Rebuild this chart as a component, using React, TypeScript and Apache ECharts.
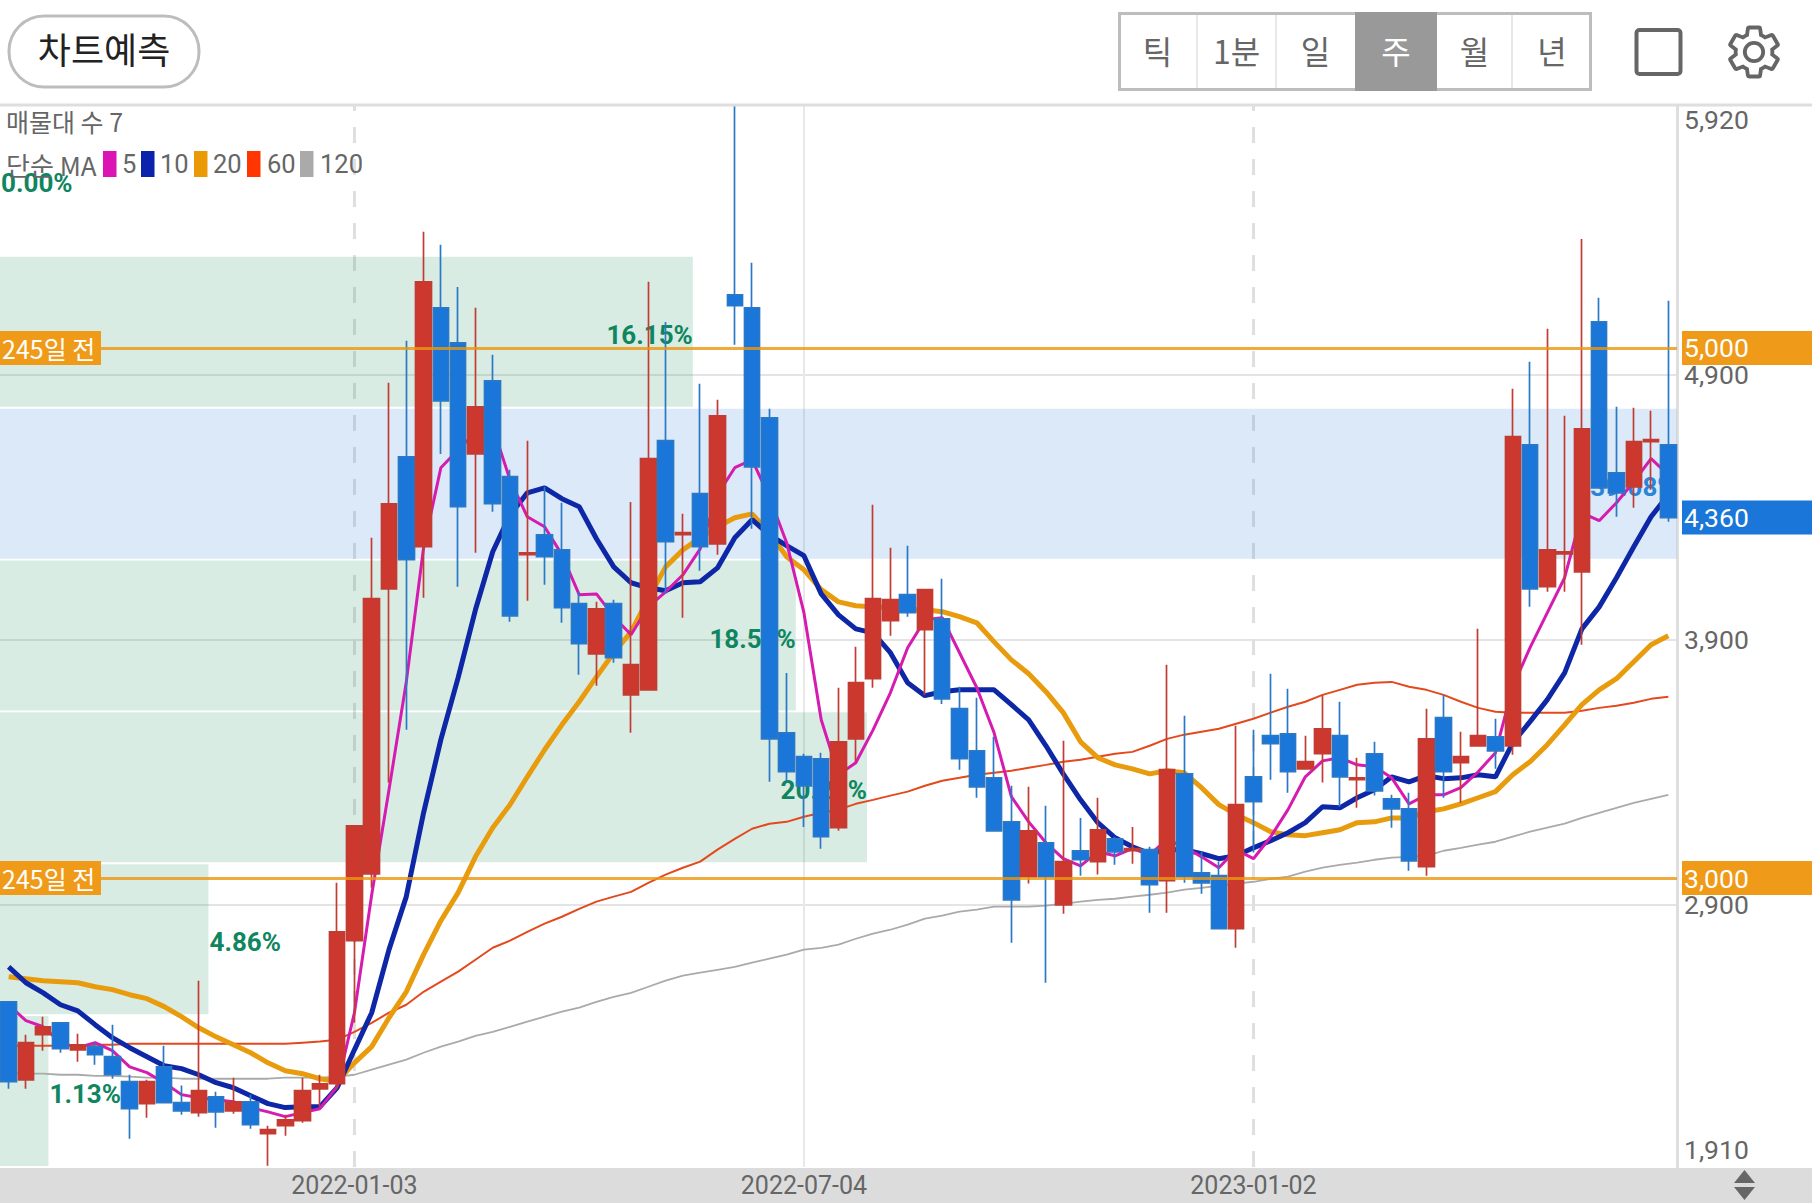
import React, { useEffect, useRef } from "react";
import * as echarts from "echarts";

const GEAR = "M19.14 12.94c.04-.3.06-.61.06-.94 0-.32-.02-.64-.07-.94l2.03-1.58c.18-.14.23-.41.12-.61l-1.92-3.32c-.12-.22-.37-.29-.59-.22l-2.39.96c-.5-.38-1.03-.7-1.62-.94l-.36-2.54c-.04-.24-.24-.41-.48-.41h-3.84c-.24 0-.43.17-.47.41l-.36 2.54c-.59.24-1.13.57-1.62.94l-2.39-.96c-.22-.08-.47 0-.59.22L2.74 8.87c-.12.21-.08.47.12.61l2.03 1.58c-.05.3-.09.63-.09.94s.02.64.07.94l-2.03 1.58c-.18.14-.23.41-.12.61l1.92 3.32c.12.22.37.29.59.22l2.39-.96c.5.38 1.03.7 1.62.94l.36 2.54c.05.24.24.41.48.41h3.84c.24 0 .44-.17.47-.41l.36-2.54c.59-.24 1.13-.56 1.62-.94l2.39.96c.22.08.47 0 .59-.22l1.92-3.32c.12-.22.07-.47-.12-.61l-2.01-1.58zM12 15.6c-1.98 0-3.6-1.62-3.6-3.6s1.62-3.6 3.6-3.6 3.6 1.62 3.6 3.6-1.62 3.6-3.6 3.6z";
echarts.graphic.registerShape("gear", echarts.graphic.extendPath(GEAR, {}));

const KR = '"Noto Sans CJK KR", Roboto, sans-serif';
const RB = 'Roboto, "Noto Sans CJK KR", sans-serif';

const weekCount = 97;
const firstWeekUTC = Date.UTC(2021, 7, 16);
const weeks: string[] = [];
for (let k = 0; k < weekCount; k++) {
  weeks.push(new Date(firstWeekUTC + k * 7 * 86400000).toISOString().slice(0, 10));
}
const dateTickIndexes = [20, 46, 72];
const dashedIndexes = [20, 72];
const solidIndexes = [46];

// open, close, low, high
const ohlc: number[][] = [
  [2533, 2232, 2205, 2533], [2239, 2379, 2205, 2409], [2409, 2439, 2349, 2477], [2454, 2356, 2341, 2454], [2352, 2371, 2307, 2413],
  [2364, 2334, 2296, 2379], [2326, 2258, 2243, 2447], [2232, 2130, 2017, 2258], [2149, 2232, 2096, 2239], [2288, 2153, 2153, 2367],
  [2153, 2122, 2107, 2217], [2115, 2198, 2100, 2613], [2175, 2118, 2058, 2194], [2122, 2156, 2111, 2247], [2156, 2070, 2054, 2183],
  [2036, 2051, 1915, 2066], [2066, 2088, 2028, 2107], [2085, 2198, 2077, 2247], [2205, 2224, 2137, 2258], [2224, 2797, 2201, 2982],
  [2764, 3197, 2454, 3197], [3016, 4054, 2963, 4284], [4091, 4412, 3360, 4868], [4589, 4201, 3559, 5027], [4250, 5249, 4057, 5438],
  [5151, 4800, 4600, 5389], [5019, 4401, 4099, 5230], [4600, 4778, 4227, 5151], [4876, 4412, 4382, 4974], [4514, 3989, 3967, 4540],
  [4220, 4227, 4046, 4650], [4295, 4212, 4106, 4476], [4238, 4020, 3963, 4416], [4035, 3884, 3767, 4080], [3846, 4016, 3725, 4042],
  [4035, 3831, 3812, 4050], [3691, 3805, 3548, 4419], [3710, 4582, 3710, 5249], [4650, 4269, 4072, 5098], [4295, 4303, 3982, 4374],
  [4450, 4250, 4159, 4865], [4261, 4744, 4220, 4804], [5200, 5159, 5012, 5913], [5151, 4551, 4318, 5321], [4736, 3525, 3363, 4770],
  [3548, 3401, 3363, 3774], [3458, 3348, 3193, 3469], [3450, 3156, 3111, 3473], [3190, 3514, 3178, 3718], [3525, 3737, 3439, 3873],
  [3752, 4054, 3718, 4408], [3971, 4050, 3914, 4246], [4069, 4001, 3986, 4254], [3937, 4088, 3691, 4088], [3978, 3676, 3657, 4129],
  [3639, 3450, 3409, 3722], [3480, 3344, 3303, 3680], [3378, 3178, 3175, 3533], [3212, 2918, 2756, 3348], [3005, 3178, 2979, 3344],
  [3133, 3005, 2605, 3273], [2899, 3062, 2865, 3518], [3103, 3069, 3009, 3227], [3062, 3182, 3013, 3303], [3148, 3099, 3050, 3156],
  [3103, 3111, 3054, 3193], [3107, 2975, 2869, 3118], [2990, 3409, 2869, 3805], [3393, 3005, 2982, 3612], [3020, 2982, 2941, 3099],
  [3009, 2809, 2809, 3062], [2809, 3277, 2737, 3575], [3382, 3288, 3096, 3559], [3537, 3507, 3371, 3771], [3544, 3401, 3322, 3714],
  [3412, 3439, 3412, 3537], [3469, 3563, 3360, 3691], [3537, 3382, 3269, 3665], [3371, 3378, 3265, 3454], [3469, 3329, 3311, 3514],
  [3299, 3261, 3190, 3314], [3261, 3065, 3028, 3322], [3043, 3525, 3009, 3639], [3605, 3401, 3303, 3691], [3435, 3458, 3284, 3552],
  [3499, 3537, 3495, 3940], [3533, 3480, 3412, 3601], [3499, 4665, 3465, 4846], [4634, 4091, 4023, 4948], [4099, 4238, 4080, 5072],
  [4223, 4231, 4080, 4744], [4155, 4695, 3880, 5411], [5098, 4472, 4472, 5189], [4529, 4453, 4363, 4778], [4476, 4646, 4397, 4774],
  [4646, 4654, 4465, 4763], [4634, 4360, 4344, 5178],
];

const ma5 = [
  2522, 2462, 2439, 2379, 2360, 2379, 2349, 2288, 2266, 2228,
  2183, 2171, 2164, 2156, 2134, 2118, 2100, 2115, 2130, 2213,
  2492, 2937, 3333, 3740, 4246, 4548, 4616, 4680, 4702, 4502,
  4363, 4325, 4220, 4069, 4072, 3986, 3918, 4023, 4080, 4144,
  4242, 4446, 4548, 4578, 4438, 4265, 4001, 3597, 3390, 3435,
  3559, 3699, 3869, 3974, 3982, 3850, 3718, 3548, 3307, 3212,
  3133, 3073, 3046, 3099, 3084, 3111, 3088, 3145, 3118, 3080,
  3039, 3107, 3073, 3156, 3258, 3382, 3442, 3454, 3427, 3420,
  3378, 3280, 3314, 3314, 3341, 3401, 3473, 3722, 3869, 4001,
  4133, 4378, 4348, 4416, 4495, 4582, 4521,
];
const ma10 = [
  2665, 2605, 2567, 2522, 2499, 2447, 2398, 2360, 2326, 2292,
  2281, 2258, 2228, 2209, 2179, 2149, 2134, 2137, 2137, 2209,
  2352, 2492, 2730, 2930, 3246, 3522, 3756, 4012, 4231, 4370,
  4453, 4472, 4431, 4401, 4280, 4174, 4114, 4095, 4084, 4114,
  4118, 4170, 4284, 4352, 4295, 4254, 4216, 4072, 3993, 3940,
  3925, 3850, 3737, 3688, 3703, 3710, 3710, 3710, 3654, 3597,
  3499, 3393, 3295, 3209, 3152, 3118, 3092, 3107, 3107, 3092,
  3073, 3084, 3114, 3141, 3171, 3209, 3269, 3265, 3303, 3333,
  3382, 3363, 3386, 3375, 3378, 3390, 3382, 3510, 3590, 3673,
  3774, 3940, 4023, 4133, 4250, 4363, 4446,
];
const ma20 = [
  2628, 2620, 2613, 2609, 2605, 2590, 2579, 2560, 2545, 2515,
  2477, 2435, 2401, 2371, 2341, 2303, 2273, 2262, 2243, 2232,
  2303, 2364, 2473, 2571, 2711, 2839, 2945, 3080, 3190, 3277,
  3382, 3484, 3578, 3665, 3759, 3850, 3929, 4054, 4174, 4238,
  4284, 4325, 4359, 4374, 4303, 4212, 4163, 4088, 4042, 4027,
  4023, 4020, 4012, 4012, 4005, 3986, 3963, 3891, 3823, 3771,
  3703, 3624, 3514, 3454, 3427, 3412, 3393, 3405, 3397, 3341,
  3277, 3239, 3209, 3175, 3163, 3160, 3171, 3182, 3209, 3212,
  3227, 3227, 3250, 3261, 3280, 3303, 3326, 3390, 3439, 3503,
  3578, 3654, 3710, 3752, 3816, 3880, 3914,
];
const ma60 = [
  2367, 2367, 2367, 2367, 2367, 2371, 2371, 2375, 2375, 2375,
  2375, 2375, 2375, 2375, 2375, 2375, 2375, 2379, 2383, 2390,
  2420, 2454, 2492, 2522, 2571, 2609, 2647, 2692, 2737, 2764,
  2797, 2828, 2854, 2884, 2911, 2930, 2948, 2982, 3013, 3039,
  3062, 3107, 3148, 3186, 3205, 3212, 3231, 3246, 3258, 3280,
  3295, 3311, 3326, 3348, 3367, 3378, 3390, 3397, 3405, 3416,
  3427, 3439, 3446, 3458, 3469, 3476, 3499, 3525, 3541, 3552,
  3563, 3582, 3601, 3624, 3646, 3665, 3691, 3710, 3729, 3737,
  3740, 3722, 3710, 3691, 3665, 3642, 3627, 3624, 3624, 3624,
  3624, 3631, 3642, 3650, 3661, 3676, 3684,
];
const ma120 = [
  2266, 2262, 2262, 2258, 2258, 2254, 2254, 2251, 2247, 2247,
  2243, 2243, 2243, 2243, 2243, 2243, 2247, 2247, 2247, 2251,
  2258, 2277, 2296, 2315, 2341, 2364, 2383, 2405, 2420, 2439,
  2458, 2477, 2496, 2511, 2533, 2552, 2567, 2590, 2613, 2632,
  2643, 2654, 2665, 2681, 2696, 2711, 2730, 2737, 2749, 2771,
  2790, 2805, 2824, 2847, 2858, 2873, 2881, 2892, 2892, 2892,
  2896, 2903, 2911, 2918, 2922, 2930, 2937, 2945, 2956, 2963,
  2971, 2979, 2986, 2997, 3005, 3024, 3039, 3050, 3058, 3069,
  3077, 3080, 3084, 3103, 3114, 3126, 3137, 3156, 3175, 3190,
  3205, 3227, 3246, 3265, 3284, 3299, 3314,
];

// volume profile, bottom band first
const profileBands = ["1", "2", "3", "4", "5", "6", "7"];
const profilePercents = [1.13, 4.86, 20.21, 18.55, 39.08, 16.15, 0.0];

const yMin = 1910;
const yMax = 5920;
const gridTicks = [2900, 3900, 4900];
const priceLabels = [1910, 2900, 3000, 3900, 4360, 4900, 5000, 5920];
const levelLines = [3000, 5000];
const lastPrice = 4360;
const levelNote = "245일 전";

const headerButtons = ["틱", "1분", "일", "주", "월", "년"];
const selectedButton = "주";

const maColors: Record<string, string> = {
  "5": "#d51bb0",
  "10": "#0d27a6",
  "20": "#e89b0c",
  "60": "#e3491d",
  "120": "#aaaaaa",
};
const swatchColors = ["#dc14b4", "#0b23ac", "#ea9a06", "#ff3600", "#aaaaaa"];

const comma = (v: number) => v.toLocaleString("en-US");

function buildGraphics() {
  const btnX = [1118, 1197, 1276, 1355, 1437, 1512, 1592];
  const g: any[] = [
    { type: "rect", z: -1, shape: { x: 0, y: 1168, width: 1812, height: 35 }, style: { fill: "#dcdcdc" } },
    { type: "rect", z: 50, shape: { x: 0, y: 0, width: 1812, height: 104 }, style: { fill: "#fff" } },
    { type: "rect", z: 51, shape: { x: 0, y: 103.5, width: 1812, height: 3 }, style: { fill: "#dedede" } },
    { type: "rect", z: 52, shape: { x: 9, y: 16, width: 190, height: 71, r: 35 }, style: { fill: "#fff", stroke: "#bdbdbd", lineWidth: 3 } },
    { type: "text", z: 53, x: 104, y: 48, style: { text: "차트예측", fill: "#222", font: `36px ${KR}`, textAlign: "center", textVerticalAlign: "middle" } },
    { type: "rect", z: 52, shape: { x: 1119.5, y: 13.5, width: 471, height: 76 }, style: { fill: "#fff", stroke: "#bdbdbd", lineWidth: 3 } },
  ];
  headerButtons.forEach((b, i) => {
    const x0 = btnX[i];
    const x1 = btnX[i + 1];
    if (b === selectedButton) {
      g.push({ type: "rect", z: 53, shape: { x: x0, y: 12, width: x1 - x0, height: 79 }, style: { fill: "#999" } });
    } else if (i > 0 && headerButtons[i - 1] !== selectedButton) {
      g.push({ type: "rect", z: 53, shape: { x: x0 - 1, y: 15, width: 2, height: 73 }, style: { fill: "#e8e8e8" } });
    }
    g.push({
      type: "text", z: 54, x: (x0 + x1) / 2, y: 50,
      style: { text: b, fill: b === selectedButton ? "#fff" : "#666", font: `32px ${KR}`, textAlign: "center", textVerticalAlign: "middle" },
    });
  });
  g.push({ type: "rect", z: 53, shape: { x: 1636.5, y: 30, width: 44, height: 44, r: 3 }, style: { fill: "transparent", stroke: "#666", lineWidth: 4 } });
  g.push({ type: "gear", z: 53, x: 1723.4, y: 21.4, scaleX: 2.55, scaleY: 2.55, style: { fill: "transparent", stroke: "#666", lineWidth: 1.5 } });
  // legend
  g.push({ type: "text", z: 53, x: 6, y: 120.5, style: { text: "매물대 수 7", fill: "#666", font: `25px ${KR}`, textVerticalAlign: "middle" } });
  g.push({ type: "text", z: 12, x: 6, y: 164, style: { text: "단순 MA", fill: "#666", font: `26px ${KR}`, textVerticalAlign: "middle" } });
  const swX = [103, 141, 194, 247, 300];
  const txtX = [122, 160, 213, 267, 320];
  Object.keys(maColors).sort((a, b) => +a - +b).forEach((name, i) => {
    g.push({ type: "rect", z: 12, shape: { x: swX[i], y: 151, width: 13.5, height: 26 }, style: { fill: swatchColors[i] } });
    g.push({ type: "text", z: 12, x: txtX[i], y: 164, style: { text: name, fill: "#666", font: `25.5px ${RB}`, textVerticalAlign: "middle" } });
  });
  g.push({ type: "polygon", z: 53, shape: { points: [[1744.5, 1170], [1755, 1183], [1734, 1183]] }, style: { fill: "#666" } });
  g.push({ type: "polygon", z: 53, shape: { points: [[1734, 1187], [1755, 1187], [1744.5, 1200]] }, style: { fill: "#666" } });
  return g;
}

function maSeries(name: string, data: number[], width: number) {
  return {
    name: "MA" + name,
    type: "line",
    xAxisIndex: 0,
    yAxisIndex: 0,
    data,
    showSymbol: false,
    symbol: "none",
    z: 2,
    silent: true,
    lineStyle: { color: maColors[name], width },
  };
}

export default function App() {
  const ref = useRef<HTMLDivElement>(null);
  useEffect(() => {
    const chart = echarts.init(ref.current!, undefined, { renderer: "svg" });
    const profileMax = Math.max(...profilePercents);
    const ma120Series: any = maSeries("120", ma120, 1.8);
    ma120Series.markLine = {
      silent: true, symbol: ["none", "none"], z: 1, label: { show: false },
      data: [
        ...dashedIndexes.map((i) => ({ xAxis: weeks[i], lineStyle: { color: "#dfdfdf", width: 3, type: [16, 16] } })),
        ...solidIndexes.map((i) => ({ xAxis: weeks[i], lineStyle: { color: "#e8e8e8", width: 2, type: "solid" } })),
      ],
    };
    chart.setOption({
      animation: false,
      textStyle: { fontFamily: RB },
      grid: [
        { left: 0, top: 104, width: 1677, height: 1063, show: false, outerBoundsMode: "none" },
        { left: 0, top: 104, width: 1677, height: 1063, show: false, outerBoundsMode: "none" },
      ],
      xAxis: [
        {
          type: "category", gridIndex: 0, data: weeks, boundaryGap: true,
          axisLine: { show: false }, axisTick: { show: false }, splitLine: { show: false },
          z: 6,
          axisLabel: {
            margin: 6, color: "#666", fontSize: 25, fontFamily: RB,
            interval: (index: number) => dateTickIndexes.includes(index),
          },
        },
        { type: "value", gridIndex: 1, min: 0, max: 39.09, show: false },
      ],
      yAxis: [
        {
          type: "value", gridIndex: 0, position: "right", min: yMin, max: yMax, scale: true,
          axisLine: { show: true, onZero: false, lineStyle: { color: "#dedede", width: 3 } },
          axisTick: { show: false, customValues: gridTicks },
          splitLine: { show: true, lineStyle: { color: "#e4e4e4", width: 2 } },
          axisLabel: {
            customValues: priceLabels, margin: 5, color: "#666", fontSize: 26.5, fontFamily: RB,
            formatter: (v: number) => {
              const s = comma(v);
              if (levelLines.includes(v)) return `{o|${s}}`;
              if (v === lastPrice) return `{b|${s}}`;
              if (v === yMax) return `{top|${s}}`;
              if (v === yMin) return `{bot|${s}}`;
              return `{p|${s}}`;
            },
            rich: {
              p: { color: "#666", fontSize: 26.5, padding: [0, 0, 0, 2], fontFamily: RB },
              top: { color: "#666", fontSize: 26.5, padding: [30, 0, 0, 2], fontFamily: RB },
              bot: { color: "#666", fontSize: 26.5, padding: [0, 0, 36, 2], fontFamily: RB },
              o: { color: "#fff", fontSize: 26.5, backgroundColor: "#ef9a18", width: 128, height: 34, lineHeight: 34, padding: [0, 0, 0, 2], fontFamily: RB },
              b: { color: "#fff", fontSize: 26.5, backgroundColor: "#1a76d8", width: 128, height: 34, lineHeight: 34, padding: [0, 0, 0, 2], fontFamily: RB },
            },
          },
        },
        { type: "category", gridIndex: 1, data: profileBands, show: false },
        {
          type: "value", gridIndex: 0, position: "left", min: yMin, max: yMax, scale: true, z: 6,
          axisLine: { show: false }, axisTick: { show: false, customValues: levelLines }, splitLine: { show: false },
          axisLabel: {
            inside: true, margin: 0, customValues: levelLines,
            formatter: () => `{o|${levelNote}}`,
            rich: { o: { color: "#fff", fontSize: 25, backgroundColor: "#ef9a18", width: 99, height: 34, lineHeight: 34, padding: [0, 0, 0, 2], fontFamily: KR } },
          },
        },
      ],
      graphic: { elements: buildGraphics() },
      series: [
        {
          name: "profile", type: "bar", xAxisIndex: 1, yAxisIndex: 1, barWidth: 150, z: 1, silent: true,
          data: profilePercents.map((p) => ({
            value: p,
            itemStyle: { color: p === profileMax ? "rgba(75,145,220,0.2)" : "rgba(65,160,120,0.2)" },
            label: {
              show: true,
              position: p < 10 ? "right" : "insideRight",
              distance: p === 0 ? 1 : p < 10 ? 1 : 0,
              offset: [0, 3],
              formatter: p.toFixed(2) + "%",
              color: p === profileMax ? "#2a84d8" : "#0f8560",
              fontSize: 26, fontWeight: "bold", fontFamily: RB,
            },
          })),
        },
        ma120Series,
        maSeries("60", ma60, 2),
        maSeries("20", ma20, 5),
        maSeries("10", ma10, 5),
        maSeries("5", ma5, 3),
        {
          name: "price", type: "candlestick", xAxisIndex: 0, yAxisIndex: 0, z: 3, silent: true,
          barWidth: 16,
          data: ohlc,
          itemStyle: {
            color: "#cc372e", color0: "#1a76d8",
            borderColor: "#c13d33", borderColor0: "#2a78c6", borderWidth: 1.7,
          },
          markLine: {
            silent: true, symbol: ["none", "none"], z: 5, label: { show: false },
            lineStyle: { color: "rgba(236,150,15,0.8)", width: 3, type: "solid" },
            data: levelLines.map((v) => ({ yAxis: v })),
          },
        },
      ],
    });
    return () => chart.dispose();
  }, []);
  return <div ref={ref} style={{ position: "absolute", left: 0, top: 0, width: 1812, height: 1203 }} />;
}
